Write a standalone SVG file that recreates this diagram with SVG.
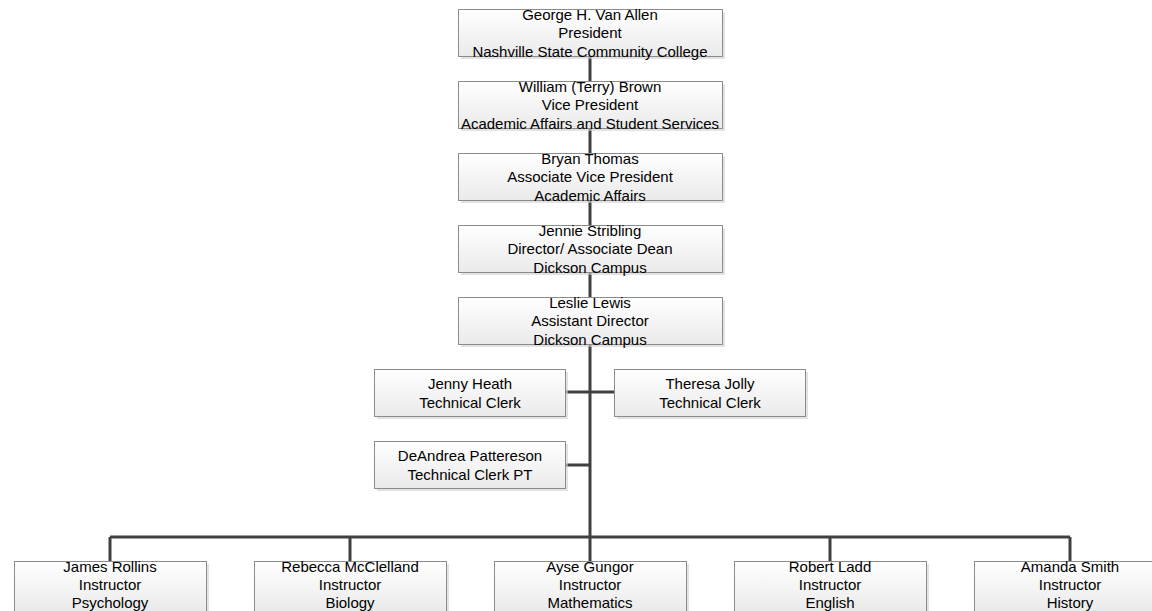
<svg xmlns="http://www.w3.org/2000/svg" width="1152" height="611" viewBox="0 0 1152 611">
<defs>
<linearGradient id="g" x1="0" y1="0" x2="0" y2="1">
<stop offset="0" stop-color="#ffffff"/>
<stop offset="1" stop-color="#eaeaea"/>
</linearGradient>
</defs>
<style>
.sh{fill:#cfcfcf;opacity:0.6}
.bx{fill:url(#g);stroke:#8c8c8c;stroke-width:1}
.t{font-family:"Liberation Sans",Arial,sans-serif;font-size:15px;fill:#000;text-anchor:middle}
.c{stroke:#404040;stroke-width:3;fill:none}
</style>
<rect width="1152" height="611" fill="#fff"/>
<g id="connectors">
<path class="c" d="M590 56V81M590 129V153M590 201V225M590 273V297M590 345V537M110 537H1070M110 537V561M350 537V561M590 537V561M830 537V561M1070 537V561M565 392H614M566 465H590"/>
</g>
<g id="n1"><rect class="sh" x="461" y="12" width="264" height="47"/><rect class="bx" x="458.5" y="9.5" width="264" height="47"/><text class="t" x="590" y="20">George H. Van Allen</text><text class="t" x="590" y="38">President</text><text class="t" x="590" y="56.5">Nashville State Community College</text></g>
<g id="n2"><rect class="sh" x="461" y="84" width="264" height="47"/><rect class="bx" x="458.5" y="81.5" width="264" height="47"/><text class="t" x="590" y="92">William (Terry) Brown</text><text class="t" x="590" y="110">Vice President</text><text class="t" x="590" y="128.5">Academic Affairs and Student Services</text></g>
<g id="n3"><rect class="sh" x="461" y="156" width="264" height="47"/><rect class="bx" x="458.5" y="153.5" width="264" height="47"/><text class="t" x="590" y="164">Bryan Thomas</text><text class="t" x="590" y="182">Associate Vice President</text><text class="t" x="590" y="200.5">Academic Affairs</text></g>
<g id="n4"><rect class="sh" x="461" y="228" width="264" height="47"/><rect class="bx" x="458.5" y="225.5" width="264" height="47"/><text class="t" x="590" y="236">Jennie Stribling</text><text class="t" x="590" y="254">Director/ Associate Dean</text><text class="t" x="590" y="272.5">Dickson Campus</text></g>
<g id="n5"><rect class="sh" x="461" y="300" width="264" height="47"/><rect class="bx" x="458.5" y="297.5" width="264" height="47"/><text class="t" x="590" y="308">Leslie Lewis</text><text class="t" x="590" y="326">Assistant Director</text><text class="t" x="590" y="344.5">Dickson Campus</text></g>
<g id="n6"><rect class="sh" x="377" y="372" width="191" height="47"/><rect class="bx" x="374.5" y="369.5" width="191" height="47"/><text class="t" x="470" y="389">Jenny Heath</text><text class="t" x="470" y="408">Technical Clerk</text></g>
<g id="n7"><rect class="sh" x="617" y="372" width="191" height="47"/><rect class="bx" x="614.5" y="369.5" width="191" height="47"/><text class="t" x="710" y="389">Theresa Jolly</text><text class="t" x="710" y="408">Technical Clerk</text></g>
<g id="n8"><rect class="sh" x="377" y="444" width="191" height="47"/><rect class="bx" x="374.5" y="441.5" width="191" height="47"/><text class="t" x="470" y="461">DeAndrea Pattereson</text><text class="t" x="470" y="480">Technical Clerk PT</text></g>
<g id="n9"><rect class="sh" x="17" y="564" width="192" height="50"/><rect class="bx" x="14.5" y="561.5" width="192" height="50"/><text class="t" x="110" y="572">James Rollins</text><text class="t" x="110" y="590">Instructor</text><text class="t" x="110" y="608">Psychology</text></g>
<g id="n10"><rect class="sh" x="257" y="564" width="192" height="50"/><rect class="bx" x="254.5" y="561.5" width="192" height="50"/><text class="t" x="350" y="572">Rebecca McClelland</text><text class="t" x="350" y="590">Instructor</text><text class="t" x="350" y="608">Biology</text></g>
<g id="n11"><rect class="sh" x="497" y="564" width="192" height="50"/><rect class="bx" x="494.5" y="561.5" width="192" height="50"/><text class="t" x="590" y="572">Ayse Gungor</text><text class="t" x="590" y="590">Instructor</text><text class="t" x="590" y="608">Mathematics</text></g>
<g id="n12"><rect class="sh" x="737" y="564" width="192" height="50"/><rect class="bx" x="734.5" y="561.5" width="192" height="50"/><text class="t" x="830" y="572">Robert Ladd</text><text class="t" x="830" y="590">Instructor</text><text class="t" x="830" y="608">English</text></g>
<g id="n13"><rect class="sh" x="977" y="564" width="192" height="50"/><rect class="bx" x="974.5" y="561.5" width="192" height="50"/><text class="t" x="1070" y="572">Amanda Smith</text><text class="t" x="1070" y="590">Instructor</text><text class="t" x="1070" y="608">History</text></g>
</svg>
